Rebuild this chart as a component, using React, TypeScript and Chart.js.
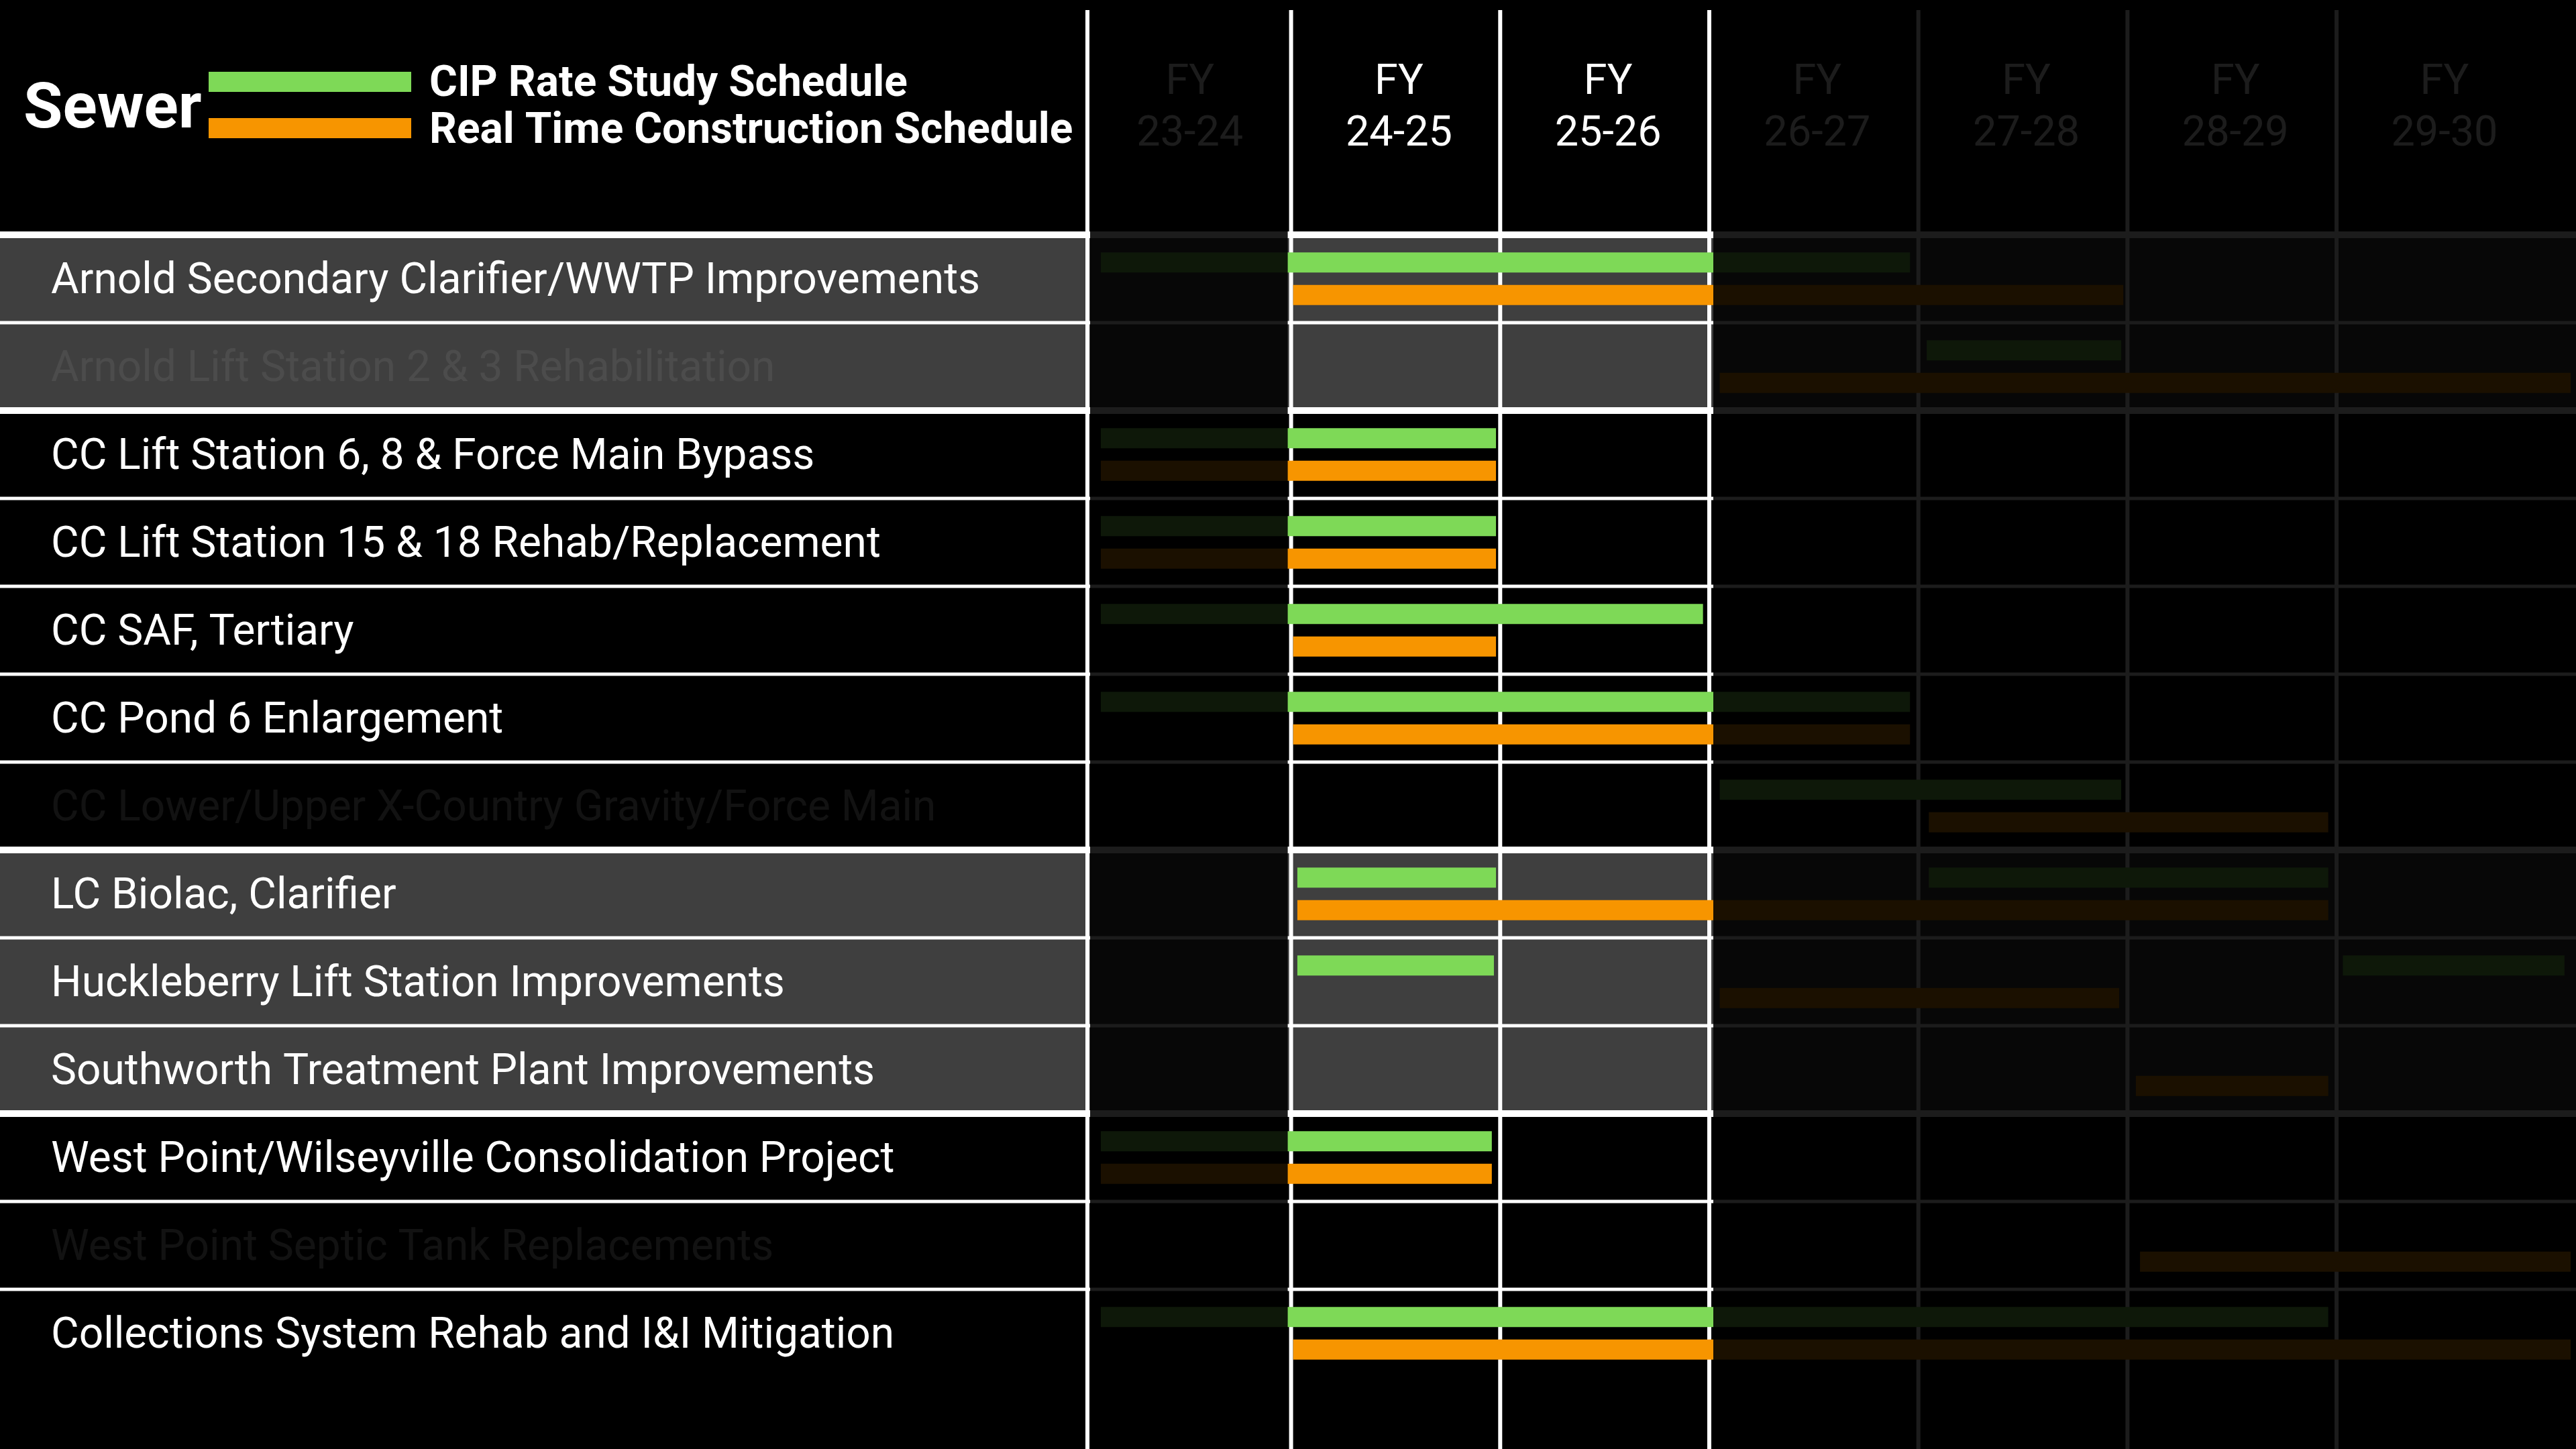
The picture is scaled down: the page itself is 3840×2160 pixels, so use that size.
import React, { useEffect, useRef } from "react";
import { Chart, registerables } from "chart.js";

Chart.register(...registerables);

const W = 3840;
const H = 2160;

// ---------- data ----------
const chartTitle = "Sewer";
const projects = [
  "Arnold Secondary Clarifier/WWTP Improvements",
  "Arnold Lift Station 2 & 3 Rehabilitation",
  "CC Lift Station 6, 8 & Force Main Bypass",
  "CC Lift Station 15 & 18 Rehab/Replacement",
  "CC SAF, Tertiary",
  "CC Pond 6 Enlargement",
  "CC Lower/Upper X-Country Gravity/Force Main",
  "LC Biolac, Clarifier",
  "Huckleberry Lift Station Improvements",
  "Southworth Treatment Plant Improvements",
  "West Point/Wilseyville Consolidation Project",
  "West Point Septic Tank Replacements",
  "Collections System Rehab and I&I Mitigation",
];
// plant group of each project (alternate groups are shaded)
const projectGroup = [0, 0, 1, 1, 1, 1, 1, 2, 2, 2, 3, 3, 3];
// projects whose label is shown in full (others are faded)
const projectInFocus = [true, false, true, true, true, true, false, true, true, true, true, false, true];

// fiscal years, by starting year
const fiscalYearStarts = [2023, 2024, 2025, 2026, 2027, 2028, 2029];
const fiscalYearLabels = ["23-24", "24-25", "25-26", "26-27", "27-28", "28-29", "29-30"];
const focusFrom = 2024;
const focusTo = 2026;

const cipSchedule: ([number, number] | null)[] = [
  [2023.09, 2026.96],
  [2027.04, 2027.97],
  [2023.09, 2024.98],
  [2023.09, 2024.98],
  [2023.09, 2025.97],
  [2023.09, 2026.96],
  [2026.05, 2027.97],
  [2024.03, 2024.98],
  [2024.03, 2024.97],
  null,
  [2023.09, 2024.96],
  null,
  [2023.09, 2028.96],
];
const cipScheduleLater: ([number, number] | null)[] = [
  null, null, null, null, null, null, null,
  [2027.05, 2028.96],
  [2029.03, 2030.09],
  null, null, null, null,
];
const realTimeSchedule: ([number, number] | null)[] = [
  [2024.01, 2027.98],
  [2026.05, 2030.12],
  [2023.09, 2024.98],
  [2023.09, 2024.98],
  [2024.01, 2024.98],
  [2024.01, 2026.96],
  [2027.05, 2028.96],
  [2024.03, 2028.96],
  [2026.05, 2027.96],
  [2028.04, 2028.96],
  [2023.09, 2024.96],
  [2028.06, 2030.12],
  [2024.01, 2030.12],
];

const cipLabel = "CIP Rate Study Schedule";
const realTimeLabel = "Real Time Construction Schedule";

// ---------- styles ----------
const GREEN = "#7ed957";
const ORANGE = "#f79500";
const SHADE = "#3f3f3f";
const FONT = "Roboto";

const ganttPlugin = {
  id: "ganttDecor",
  beforeDraw(chart: any) {
    const { ctx, scales } = chart;
    const y = scales.y;
    const rowH = Math.abs(y.getPixelForValue(1) - y.getPixelForValue(0));
    ctx.save();
    ctx.fillStyle = "#000";
    ctx.fillRect(0, 0, W, H);
    projects.forEach((_, i) => {
      if (projectGroup[i] % 2 === 0) {
        const c = y.getPixelForValue(i);
        ctx.fillStyle = SHADE;
        ctx.fillRect(0, c - rowH / 2, W, rowH);
      }
    });
    ctx.restore();
  },
  beforeDatasetsDraw(chart: any) {
    const { ctx, scales, chartArea } = chart;
    const x = scales.x;
    const y = scales.y;
    const rowH = Math.abs(y.getPixelForValue(1) - y.getPixelForValue(0));
    ctx.save();
    ctx.fillStyle = "#fff";
    const xs = [chartArea.left, ...fiscalYearStarts.slice(1).map((v) => x.getPixelForValue(v))];
    xs.forEach((px) => ctx.fillRect(px - 3, 15, 6, H - 15));
    projects.forEach((_, i) => {
      const top = y.getPixelForValue(i) - rowH / 2;
      const thick = i === 0 || projectGroup[i] !== projectGroup[i - 1];
      const t = thick ? 10 : 5;
      ctx.fillRect(0, top - t / 2, W, t);
    });
    ctx.restore();
  },
  afterDatasetsDraw(chart: any) {
    const { ctx, scales, chartArea, data } = chart;
    const x = scales.x;
    ctx.save();
    // title + legend
    ctx.fillStyle = "#fff";
    ctx.textBaseline = "alphabetic";
    ctx.textAlign = "left";
    ctx.font = `bold 95px ${FONT}`;
    ctx.fillText(chartTitle, 35, 190);
    const ds = data.datasets;
    ctx.fillStyle = ds[0].backgroundColor;
    ctx.fillRect(311, 107, 302, 30);
    ctx.fillStyle = ds[2].backgroundColor;
    ctx.fillRect(311, 176, 302, 30);
    ctx.fillStyle = "#fff";
    ctx.font = `bold 64px ${FONT}`;
    ctx.fillText(ds[0].label, 640, 143);
    ctx.fillText(ds[2].label, 640, 213);
    // fiscal year headers
    ctx.textAlign = "center";
    ctx.font = `63px ${FONT}`;
    fiscalYearStarts.forEach((v, i) => {
      const cx = x.getPixelForValue(v + 0.5) + 5;
      ctx.fillText("FY", cx, 140);
      ctx.fillText(fiscalYearLabels[i], cx, 217);
    });
    // fade everything outside the focus years
    ctx.fillStyle = "rgba(0,0,0,0.89)";
    const l0 = chartArea.left + 4;
    const l1 = x.getPixelForValue(focusFrom) - 5;
    const r0 = x.getPixelForValue(focusTo) + 6;
    ctx.fillRect(l0, 0, l1 - l0, H);
    ctx.fillRect(r0, 0, W - r0, H);
    ctx.restore();
  },
};

export default function App() {
  const ref = useRef<HTMLCanvasElement>(null);
  useEffect(() => {
    let chart: Chart | null = null;
    let cancelled = false;
    const make = () => {
      if (cancelled || !ref.current) return;
      Chart.defaults.font.family = FONT;
      chart = new Chart(ref.current, {
        type: "bar",
        data: {
          labels: projects,
          datasets: [
            { label: cipLabel, data: cipSchedule as any, backgroundColor: GREEN, stack: "cip" },
            { label: cipLabel + " (later)", data: cipScheduleLater as any, backgroundColor: GREEN, stack: "cip" },
            { label: realTimeLabel, data: realTimeSchedule as any, backgroundColor: ORANGE, stack: "rt" },
          ],
        },
        options: {
          indexAxis: "y",
          responsive: false,
          animation: false,
          devicePixelRatio: 1,
          layout: { padding: { left: 76, top: 350, bottom: 107, right: 0 } },
          datasets: {
            bar: {
              categoryPercentage: 0.74,
              barPercentage: 0.62,
              borderWidth: 0,
            },
          },
          plugins: { legend: { display: false }, tooltip: { enabled: false } },
          scales: {
            x: {
              type: "linear",
              min: 2023.026,
              max: 2030.145,
              stacked: false,
              display: false,
            },
            y: {
              type: "category",
              offset: true,
              grid: { display: false },
              border: { display: false },
              afterFit: (scale: any) => {
                scale.width = 1621 - 76;
              },
              ticks: {
                autoSkip: false,
                crossAlign: "far",
                padding: 0,
                labelOffset: 5,
                font: { size: 64, family: FONT },
                color: (c: any) => (projectInFocus[c.index] ? "#ffffff" : "rgba(255,255,255,0.07)"),
              },
            },
          },
        },
        plugins: [ganttPlugin],
      } as any);
    };
    const fonts = (document as any).fonts;
    if (fonts && fonts.load) {
      Promise.all([fonts.load(`64px ${FONT}`), fonts.load(`bold 64px ${FONT}`)]).then(make, make);
    } else {
      make();
    }
    return () => {
      cancelled = true;
      if (chart) chart.destroy();
    };
  }, []);
  return (
    <div style={{ position: "fixed", left: 0, top: 0, width: W, height: H, background: "#000" }}>
      <canvas ref={ref} width={W} height={H} style={{ width: W, height: H, display: "block" }} />
    </div>
  );
}
